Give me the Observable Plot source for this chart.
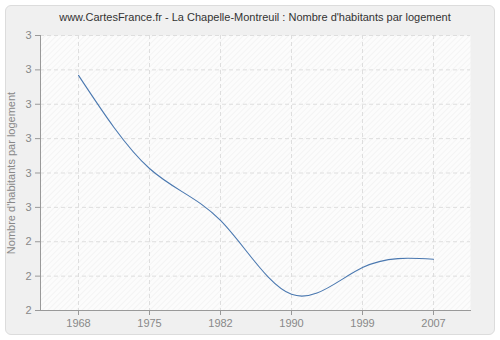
<!DOCTYPE html>
<html>
<head>
<meta charset="utf-8">
<script src="https://cdn.jsdelivr.net/npm/d3@7"></script>
<script src="https://cdn.jsdelivr.net/npm/@observablehq/plot@0.6"></script>
<style>
  html, body { margin: 0; padding: 0; background: #fff; }
  #wrap { position: relative; width: 500px; height: 340px; font-family: "Liberation Sans", Arial, sans-serif; }
  #panel { position: absolute; left: 5px; top: 5px; width: 488px; height: 328px; background: #f0f0f0; border: 1px solid #dcdcdc; border-radius: 6px; }
  #title { position: absolute; left: 0; top: 11px; width: 510px; text-align: center; font-size: 11px; color: #333; }
  #chart { position: absolute; left: 0; top: 0; }
</style>
</head>
<body>
<div id="wrap">
  <div id="panel"></div>
  <div id="title">www.CartesFrance.fr - La Chapelle-Montreuil : Nombre d'habitants par logement</div>
  <div id="chart"></div>
</div>
<script>
const years = [1968, 1975, 1982, 1990, 1999, 2007];
const values = [2.884, 2.613, 2.462, 2.247, 2.325, 2.349];
const yTicks = [2.2, 2.3, 2.4, 2.5, 2.6, 2.7, 2.8, 2.9, 3.0];
const yLabel = "Nombre d'habitants par logement";

const data = years.map((y, i) => ({year: y, value: values[i]}));

const chart = Plot.plot({
  width: 500,
  height: 340,
  marginLeft: 40,
  marginRight: 30,
  marginTop: 35,
  marginBottom: 30,
  style: {background: "transparent", fontFamily: "Liberation Sans, Arial, sans-serif", fontSize: "11px", color: "#888"},
  x: {type: "point", domain: years, padding: 0.5},
  y: {domain: [2.2, 3.0]},
  marks: [
    Plot.frame({fill: "url(#hatch)", stroke: "none"}),
    Plot.gridX({stroke: "#dedede", strokeOpacity: 1, strokeDasharray: "4,3"}),
    Plot.gridY(yTicks, {stroke: "#dedede", strokeOpacity: 1, strokeDasharray: "4,3"}),
    Plot.axisX({tickSize: 5, stroke: "#999", fill: "#888", label: null, tickPadding: 4, tickFormat: d => String(d)}),
    Plot.axisY(yTicks, {tickSize: 5, stroke: "#999", fill: "#888", tickFormat: d => String(Math.round(d)), label: yLabel, labelArrow: "none", labelAnchor: "center", labelOffset: 33, tickPadding: 4}),
    Plot.frame({anchor: "left", stroke: "#999"}),
    Plot.frame({anchor: "bottom", stroke: "#999"}),
    Plot.line(data, {x: "year", y: "value", curve: "natural", stroke: "#4a78b0", strokeWidth: 1.1})
  ]
});

const ns = "http://www.w3.org/2000/svg";
const defs = document.createElementNS(ns, "defs");
defs.innerHTML = '<pattern id="hatch" patternUnits="userSpaceOnUse" width="4" height="4" patternTransform="rotate(45)"><rect width="4" height="4" fill="#fcfcfc"/><line x1="0" y1="0" x2="0" y2="4" stroke="#ededed" stroke-width="1"/></pattern>';
chart.insertBefore(defs, chart.firstChild);
document.getElementById("chart").appendChild(chart);
</script>
</body>
</html>
